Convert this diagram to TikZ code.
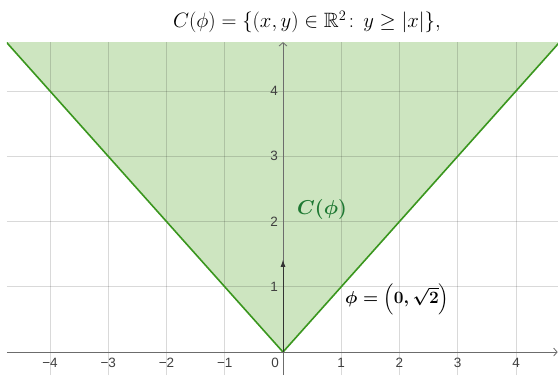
\documentclass[tikz,border=0pt]{standalone}
\usepackage{amsmath, amssymb}
\usepackage{fontspec}
\usepackage{xcolor}
\usepackage{tikz}
\usetikzlibrary{arrows.meta, positioning}

\newfontfamily\ticksfont{Liberation Sans}
\definecolor{conefill}{RGB}{205,229,192}
\definecolor{coneline}{RGB}{58,150,30}
\definecolor{conetext}{RGB}{30,120,50}

\begin{document}
\begin{tikzpicture}[
  x=58.25pt, y=65.25pt,
  gridline/.style={black, opacity=0.15, line width=0.9pt},
  axis/.style={gray!85!black, line width=0.8pt, -{Straight Barb[length=3.5pt, width=8pt]}},
  edge/.style={coneline, line width=1.6pt},
  vec/.style={black!80, line width=0.9pt, -{Latex[length=7pt, width=5pt]}},
  tick/.style={font=\ticksfont\fontsize{13.5}{16}\selectfont, text=black!75, inner sep=0pt},
  lbl/.style={font=\fontsize{17.28}{20}\selectfont, inner sep=0pt},
]

% Frame
\useasboundingbox (-4.858,-0.3525) rectangle (4.721,5.395);

% Named points
\coordinate (O) at (0,0);
\coordinate (xstart) at (-4.738,0);
\coordinate (xend) at (4.715,0);
\coordinate (ystart) at (0,-0.3525);
\coordinate (yend) at (0,4.75);
\coordinate (phitip) at (0,1.4142);

% Cone
\begin{scope}
  \clip (-4.738,-0.3525) rectangle (4.721,4.75);
  \fill[conefill] (O) -- (-5,5) -- (5,5) -- cycle;
  % Grid
  \foreach \i in {-4,-3,-2,-1,1,2,3,4}
    \draw[gridline] (\i,-0.3525) -- (\i,4.75);
  \foreach \j in {1,2,3,4}
    \draw[gridline] (-4.738,\j) -- (4.721,\j);
  \draw[edge] (-5,5) -- (O) -- (5,5);
\end{scope}

% Axes
\draw[axis] (xstart) -- (xend);
\draw[axis] (ystart) -- (yend);

% Tick labels
\foreach \i/\t in {-4/{−4},-3/{−3},-2/{−2},-1/{−1},1/1,2/2,3/3,4/4}
  \node[tick, anchor=north] (xl\i) at (\i,-0.09) {\t};
\foreach \j in {1,2,3,4}
  \node[tick, anchor=east] (yl\j) at (-0.085,\j) {\j};
\node[tick, anchor=north east] (zero) at (-0.065,-0.09) {0};

% Vector phi
\draw[vec] (O) -- (phitip);

% Labels
\node[lbl, text=conetext, scale=1.16] (conelbl) at (0.67,2.18) {$\boldsymbol{C(\phi)}$};
\node[lbl] (philbl) at (1.96,0.81) {$\boldsymbol{\phi = \left(0, \sqrt{2}\right)}$};

% Title
\node[lbl, scale=1.2] (title) at (0.41,5.06)
  {$C(\phi) = \{(x, y) \in \mathbb{R}^2\!:\, y \geq |x|\},$};

\end{tikzpicture}
\end{document}
